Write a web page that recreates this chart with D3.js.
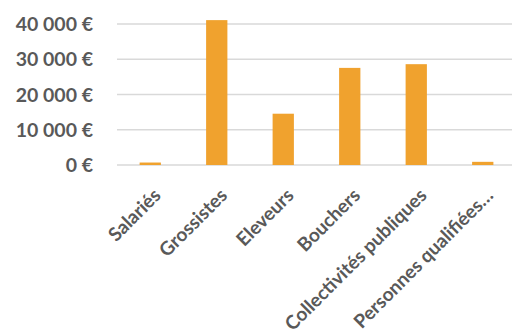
<!DOCTYPE html>
<html>
<head>
<meta charset="utf-8">
<script src="https://cdn.jsdelivr.net/npm/d3@7"></script>
<style>
  body { margin: 0; background: #fff; }
  text { font-family: Lato, "Open Sans", sans-serif; font-weight: bold; fill: #595959; }
</style>
</head>
<body>
<svg id="chart" width="512" height="331"></svg>
<script>
// categories and values (EUR)
const categories = ["Salariés", "Grossistes", "Eleveurs", "Bouchers", "Collectivités publiques", "Personnes qualifiées…"];
const values = [700, 41100, 14550, 27550, 28600, 900];
const yTicks = [0, 10000, 20000, 30000, 40000];

const svg = d3.select("#chart");
const margin = { top: 24, right: -4, bottom: 166, left: 117 };
const width = 512 - margin.left - margin.right;
const height = 331 - margin.top - margin.bottom;

const g = svg.append("g").attr("transform", `translate(${margin.left},${margin.top})`);

const x = d3.scaleBand()
  .domain(categories)
  .range([0, width])
  .paddingInner(0.68)
  .paddingOuter(0.34);

const y = d3.scaleLinear()
  .domain([0, 40000])
  .range([height, 0]);

const fmt = v => d3.format(",")(v).replace(/,/g, " ") + " €";

// gridlines
g.selectAll(".grid")
  .data(yTicks)
  .enter()
  .append("line")
  .attr("x1", 0)
  .attr("x2", width)
  .attr("y1", d => y(d))
  .attr("y2", d => y(d))
  .attr("stroke", "#d9d9d9")
  .attr("stroke-width", 1.5);

// y labels
g.selectAll(".ylab")
  .data(yTicks)
  .enter()
  .append("text")
  .attr("x", -24)
  .attr("y", d => y(d))
  .attr("dy", "0.36em")
  .attr("text-anchor", "end")
  .style("font-size", "19.5px")
  .text(d => fmt(d));

// bars
g.selectAll(".bar")
  .data(values)
  .enter()
  .append("rect")
  .attr("x", (d, i) => x(categories[i]))
  .attr("y", d => y(d))
  .attr("width", x.bandwidth())
  .attr("height", d => height - y(d))
  .attr("fill", "#f0a22e");

// x labels
g.selectAll(".xlab")
  .data(categories)
  .enter()
  .append("text")
  .attr("transform", d => `translate(${x(d) + x.bandwidth() / 2 + 2},${height + 22}) rotate(-45)`)
  .attr("text-anchor", "end")
  .attr("dy", "0.72em")
  .style("font-size", "19px")
  .text(d => d);
</script>
</body>
</html>
